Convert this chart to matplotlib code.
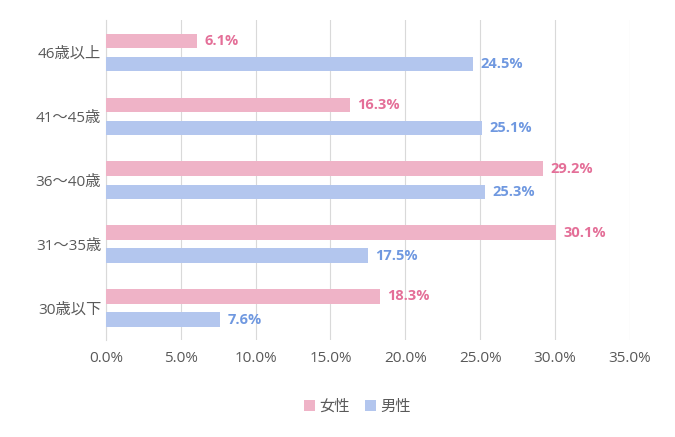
import numpy as np
import matplotlib.pyplot as plt

plt.rcParams['font.family'] = ['Open Sans', 'Noto Sans CJK JP']

categories = ['30歳以下', '31～35歳', '36～40歳', '41～45歳', '46歳以上']
female = [18.3, 30.1, 29.2, 16.3, 6.1]
male = [7.6, 17.5, 25.3, 25.1, 24.5]

F_COLOR = '#EFB3C7'
M_COLOR = '#B3C6EE'
F_TEXT = '#E46F98'
M_TEXT = '#6F98E0'

fig = plt.figure(figsize=(6.75, 4.37), dpi=100)
ax = fig.add_axes([0.157, 0.222, 0.776, 0.732])

y = np.arange(len(categories))
h = 0.22
off = 0.18
ax.barh(y + off, female, height=h, color=F_COLOR, label='女性', zorder=3)
ax.barh(y - off, male, height=h, color=M_COLOR, label='男性', zorder=3)

for yi, v in zip(y, female):
    ax.text(v + 0.5, yi + off, f'{v:.1f}%', va='center', ha='left',
            color=F_TEXT, fontsize=10.5, fontweight='bold')
for yi, v in zip(y, male):
    ax.text(v + 0.5, yi - off, f'{v:.1f}%', va='center', ha='left',
            color=M_TEXT, fontsize=10.5, fontweight='bold')

ax.set_xlim(0, 35)
ax.set_ylim(-0.5, 4.5)
ax.set_xticks(np.arange(0, 36, 5))
ax.set_xticklabels([f'{t:.1f}%' for t in np.arange(0, 36, 5)])
ax.set_yticks(y)
ax.set_yticklabels(categories)
ax.tick_params(length=0, labelsize=11, colors='#595959')
ax.tick_params(axis='x', pad=8)
ax.grid(axis='x', color='#D9D9D9', linewidth=0.8, zorder=0)
for s in ['top', 'right', 'bottom']:
    ax.spines[s].set_visible(False)
ax.spines['left'].set_color('#D9D9D9')

fig.legend(loc='lower center', bbox_to_anchor=(0.53, 0.02), ncol=2, frameon=False,
           fontsize=11, handlelength=0.7, handleheight=0.7, columnspacing=1.0,
           handletextpad=0.3, labelcolor='#595959')

fig.savefig('out.png', dpi=100)
